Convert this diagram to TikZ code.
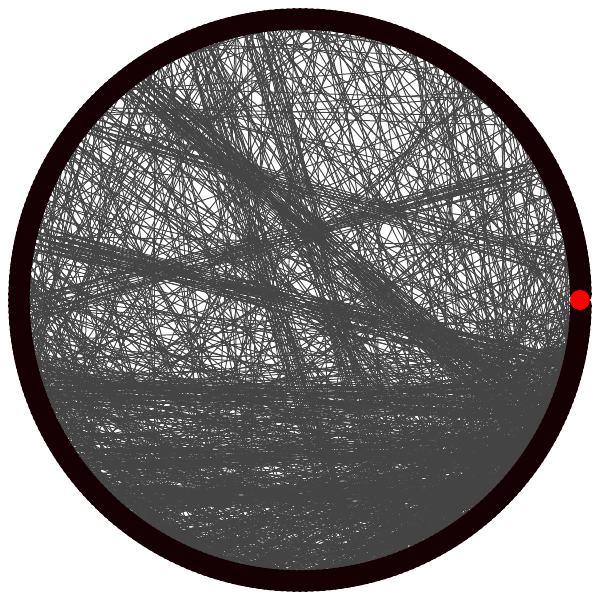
\documentclass[tikz,border=0pt]{standalone}
\usetikzlibrary{backgrounds}
\definecolor{ringdark}{HTML}{150003}
\definecolor{edgegray}{HTML}{444444}
\tikzset{
  vertex/.style={circle,fill=ringdark,inner sep=0pt,minimum size=4.4mm},
  hotvertex/.style={circle,fill=red,inner sep=0pt,minimum size=4mm},
  link/.style={edgegray,line width=0.55pt},
}
% edges between two index ranges
\newcommand{\bundle}[5]{%
  \foreach \k in {1,...,#5}{
    \pgfmathrandominteger{\a}{#1}{#2}
    \pgfmathrandominteger{\b}{#3}{#4}
    \draw[link] (v\a.center) -- (v\b.center);
  }}
\begin{document}
\begin{tikzpicture}
  \useasboundingbox (-6,-6) rectangle (6,6);
  % ring of vertices
  \foreach \i in {1,...,299}
    \node[vertex] (v\i) at ({1.2*\i}:5.62) {};
  \node[hotvertex] (v0) at (0:5.6) {};
  % edges, behind the ring
  \begin{scope}[on background layer]
    \pgfmathsetseed{4217}
    \foreach \k in {1,...,1050}{
      \pgfmathrandominteger{\r}{0}{99}
      \ifnum\r<38 \pgfmathrandominteger{\a}{250}{292}
      \else \pgfmathrandominteger{\a}{0}{299}\fi
      \pgfmathrandominteger{\s}{0}{99}
      \ifnum\s<55 \pgfmathrandominteger{\b}{160}{299}
      \else \pgfmathrandominteger{\b}{0}{299}\fi
      \draw[link] (v\a.center) -- (v\b.center);
    }
    % lower half, dense
    \bundle{160}{245}{200}{299}{210}
    % heavy bundles
    \bundle{103}{108}{273}{279}{45}
    \bundle{163}{167}{279}{285}{45}
    \bundle{137}{141}{285}{290}{35}
    \bundle{177}{181}{271}{277}{40}
    \bundle{185}{190}{262}{268}{30}
    \bundle{90}{95}{231}{237}{20}
    \bundle{150}{154}{21}{25}{20}
    \bundle{80}{85}{240}{246}{20}
    \bundle{115}{119}{3}{8}{15}
  \end{scope}
\end{tikzpicture}
\end{document}
